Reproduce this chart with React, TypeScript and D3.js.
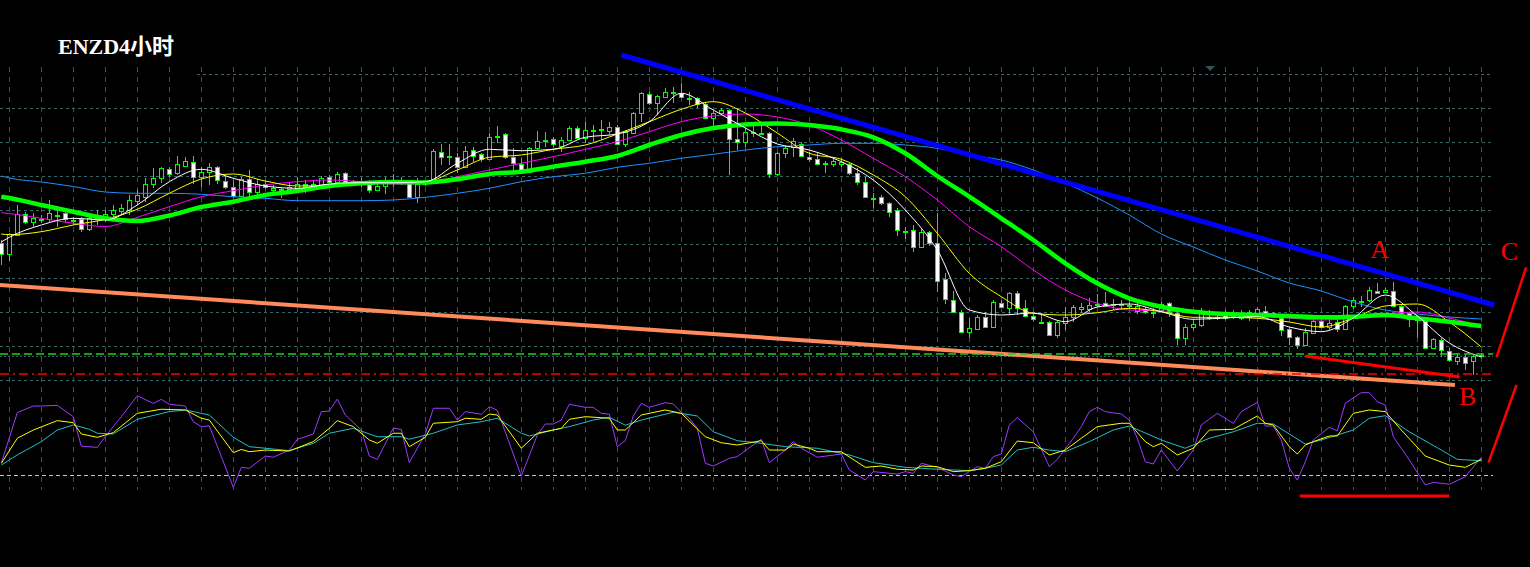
import React from 'react';
import * as d3 from 'd3';

const W = 1530;
const H = 567;

// price unit: pips above 1.6000 (EURNZD, 4H)
const candles: [number, number, number, number][] = [
  [197,200,175,186],[186,207,179,206],[205,235,204,226],[226,228,216,218],[218,227,213,222],
  [221,225,217,220],[221,240,218,227],[224,234,213,225],[227,229,217,221],[219,223,215,220],
  [221,223,208,211],[211,225,209,222],[221,230,215,222],[222,230,218,226],[226,235,222,230],
  [229,236,225,232],[230,245,225,240],[239,250,235,245],[243,262,238,256],[256,272,252,262],
  [262,273,257,272],[271,273,263,266],[267,284,265,276],[274,283,273,279],[278,284,256,263],
  [263,273,253,268],[268,277,255,273],[273,274,256,260],[259,265,251,253],[253,260,242,244],
  [244,263,243,261],[261,270,240,248],[248,261,245,256],[256,259,251,253],[250,255,247,252],
  [250,253,242,251],[251,257,247,253],[252,263,247,256],[256,260,247,254],[253,260,250,256],
  [255,264,251,262],[263,265,257,258],[258,268,256,266],[267,268,257,258],[258,260,255,257],
  [258,262,253,257],[258,260,247,250],[250,256,249,254],[254,263,246,260],[258,266,253,257],
  [257,263,255,259],[257,259,242,243],[243,262,237,256],[256,259,254,257],[257,291,256,289],
  [288,296,275,283],[284,296,275,283],[283,287,267,273],[273,294,272,289],[290,293,278,284],
  [286,287,278,281],[281,307,280,303],[304,314,297,303],[306,307,281,283],[283,292,268,277],
  [276,282,268,270],[268,293,267,292],[292,309,290,299],[300,308,293,299],[301,303,293,296],
  [294,303,288,300],[300,314,299,312],[312,314,300,302],[302,318,297,310],[310,315,298,309],
  [311,320,300,310],[309,318,305,313],[313,315,295,296],[296,310,293,308],[307,328,306,327],
  [327,348,318,347],[346,348,335,337],[337,345,325,344],[343,352,342,348],[348,353,337,347],
  [347,357,342,343],[342,348,335,341],[342,343,332,336],[336,338,321,322],[322,329,313,327],
  [327,332,325,330],[330,331,265,301],[301,332,290,298],[298,312,293,308],[308,318,303,307],
  [307,315,305,306],[307,308,262,266],[266,288,264,287],[287,295,282,292],[293,302,283,299],
  [296,298,283,284],[283,288,278,281],[281,288,275,276],[277,279,267,276],[276,283,273,279],
  [276,282,273,278],[276,277,265,267],[267,272,255,258],[258,263,242,243],[242,247,232,241],
  [243,245,235,237],[237,238,223,228],[230,232,204,210],[209,213,201,208],[210,215,188,193],
  [193,211,192,208],[208,209,194,197],[197,227,148,159],[161,167,136,141],[140,149,127,128],
  [128,130,107,108],[108,122,102,112],[111,125,110,123],[123,128,112,113],[113,140,112,138],
  [137,140,132,133],[132,148,125,147],[147,149,125,132],[132,140,123,124],[124,126,119,121],
  [118,127,116,117],[118,119,104,105],[105,120,102,118],[117,133,110,123],[123,135,118,133],
  [131,137,127,133],[131,142,127,135],[136,146,133,135],[137,148,133,134],[136,141,130,135],
  [136,140,130,135],[135,139,131,134],[129,137,126,134],[131,133,126,128],[128,132,122,127],
  [130,138,128,136],[137,138,123,128],[127,130,95,102],[102,116,95,113],[113,120,110,116],
  [115,132,113,127],[123,130,120,122],[122,125,120,123],[127,130,120,122],[125,130,121,124],
  [122,130,120,127],[123,130,119,128],[127,133,126,131],[129,134,123,124],[124,128,123,127],
  [122,124,104,110],[111,113,95,103],[103,104,91,95],[95,112,94,108],[107,124,106,119],
  [119,122,112,113],[113,123,110,117],[118,123,108,111],[111,135,110,134],[134,143,131,140],
  [139,144,133,138],[140,153,138,150],[149,157,146,147],[148,152,147,150],[149,158,133,134],
  [134,136,126,127],[127,128,113,121],[121,125,102,120],[119,123,91,92],[92,102,91,101],
  [100,102,83,90],[89,92,78,80],[79,87,75,83],[83,85,70,77],[79,85,65,84],[85,87,82,84],
];

// moving averages, read at these bars
const maBars = [0,1,5,9,13,17,21,25,29,33,37,41,45,49,53,57,61,65,69,73,77,81,85,89,93,97,101,105,109,113,117,121,125,129,133,137,141,145,149,153,157,161,165,169,173,177,181,185];
const maBlue = [264,262,258,253.5,248,246.7,246.7,245.7,243.3,241.7,239.3,239.3,239.3,240,242.7,246.7,251.7,258.3,263.3,266.7,272.7,276.7,281.7,285.7,290,293.3,295,296.7,296.7,295,291.7,285,280,270,257,242,225,206,193,180,169,157,149,138,130,126,123,121];
const maGreen = [243.3,242,235,228.3,221.7,219,224.5,233,238.3,245,249,254,256.7,258,257.5,260.7,266,268.3,273.3,278.3,284,295,305,312,315.5,316.5,315,310.7,302.7,286.7,264,243.3,221.7,200,176.7,156.7,141.7,133.3,128.3,126,125,124,122.7,123.3,125,121.7,118.3,114];
const maMagenta = [227.3,226.5,221.7,216.7,213.5,222.7,233.3,243.3,249.3,255,258.3,260,258.3,256,256.7,263.3,270,276.7,283.3,290.7,298.3,308.3,318.3,324,326,323,315,300,281.7,263.3,240,213.3,193.3,170,150,136.7,130,129,128,127,125,122,120,122,126,128,122,114];
const maYellow = [206,205.3,208.3,215,220.7,230.7,246.7,261,266,259,254,255,258.3,257.3,258.3,270,282.7,285,290.7,295,306,318.3,330.7,338.3,327,307,286.7,280.7,265,243.3,206.7,166.7,143.3,126.7,125,127.3,131.7,128.3,122.7,122.7,121.7,118,113,122,134,136,118,93];
const maWhite = [198,202.7,215,221.7,220,235,258.3,270.7,261.7,254,251.7,256,257.3,257.3,258.3,276.7,290.7,289.3,290.7,302.7,306,318.3,346.7,330,312,296,290,278.3,260,230,190,130,125,127,118.3,133,136,128.3,120.7,122,123.3,113,108.3,122,145,124,97,83];

// stochastic oscillator [bar, value]
const oscPurple: [number, number][] = [[0,30],[2,72],[4,77.5],[5,77.5],[7,78],[9,68.6],[10,44],[12,43],[13,52],[15,68.6],[17,86],[19,79.7],[20,83],[21,79],[23,77.5],[24,64.4],[25,60.3],[26,61],[29,9.7],[30,26.4],[31,25.6],[33,35.8],[34,34.8],[36,40.8],[37,49.7],[39,54.2],[40,72.8],[41,73.3],[42,83.3],[43,70],[45,57.5],[46,35.8],[47,33],[49,59],[50,58],[51,30.3],[53,54.2],[54,75.6],[56,75.6],[57,65.8],[58,72.8],[60,70.6],[61,76.9],[62,74],[65,19.2],[67,53.3],[68,62.5],[69,62.5],[70,65.8],[71,78.9],[73,76.4],[74,76.4],[75,71.4],[76,70.6],[77,43.6],[78,48.6],[79,69.2],[80,79.7],[81,76.4],[83,80.3],[84,79.2],[85,72.3],[86,67.3],[87,58.9],[88,29.8],[89,27.5],[91,33.9],[92,35.3],[93,40.3],[95,49.8],[96,30.3],[98,40.8],[99,47.8],[100,42.3],[102,34.8],[105,37.5],[106,24.2],[108,15.8],[109,22.8],[112,20.8],[113,22.8],[114,21.4],[115,29.8],[117,26.4],[119,20],[120,18.6],[121,22.8],[122,26.9],[123,25.6],[124,35.3],[125,37.5],[126,61.7],[127,67.8],[129,56],[131,26.9],[132,33],[134,50.6],[135,60.3],[136,72.8],[137,76.4],[138,72.8],[140,70.8],[141,65.8],[142,50.6],[143,31],[144,29.2],[145,40.8],[147,23.3],[149,40.8],[150,61.7],[152,71.4],[154,63],[155,72.8],[157,80.6],[158,60.8],[159,60.8],[160,49.2],[161,25.6],[162,15.8],[163,31],[164,49.2],[166,59.8],[167,56.7],[168,79.8],[170,88.6],[171,88.6],[172,81.1],[173,78.3],[174,51.9],[176,32.5],[178,11.7],[179,13.9],[181,12.3],[183,18.6],[185,34.8]];
const oscYellow: [number, number][] = [[0,29.7],[2,50.6],[4,57.5],[7,65.3],[9,63.6],[10,54.2],[12,51.4],[14,55.3],[17,71.4],[20,74.8],[23,74.2],[25,67.3],[26,65.8],[29,38.6],[30,41.3],[31,39.4],[33,40.8],[36,40],[39,47.8],[41,58.9],[42,65.3],[44,60.3],[46,49.2],[47,46.4],[49,54.8],[50,54.8],[51,43.6],[53,51.4],[54,63.1],[57,64.4],[58,67.3],[60,66.4],[61,70.8],[62,70],[65,42.3],[67,54.8],[70,58.9],[71,66.4],[73,68.6],[76,67.3],[77,57.5],[78,57.5],[80,70],[83,74.2],[85,71.4],[88,51.9],[90,46.9],[92,45],[95,48.6],[96,40.8],[98,40.8],[99,45.8],[101,42.3],[102,39.4],[105,39.4],[108,26.4],[110,27.5],[112,24.8],[114,24.2],[115,27.5],[117,26.9],[119,22.8],[121,23.6],[123,25.6],[125,31.1],[127,48.3],[129,46.9],[131,36.7],[133,40.8],[135,50.6],[137,60.3],[140,63.1],[141,63.1],[143,47.8],[144,43.6],[145,46.4],[147,36.7],[149,42.3],[151,57.5],[154,58.1],[157,69.2],[158,63.1],[159,61.7],[161,43.6],[162,37.5],[163,45],[164,47.8],[166,52.5],[167,52.5],[169,71.4],[171,74.2],[173,72.8],[175,57.5],[178,35.8],[181,28.3],[183,26.4],[185,33]];
const oscCyan: [number, number][] = [[0,28.3],[2,36.7],[5,47.8],[7,57.5],[9,61.7],[11,58.1],[12,54.8],[14,54.2],[17,66.4],[21,72.8],[23,74.2],[26,70],[29,51.4],[31,43.6],[33,42.3],[36,40.3],[39,46.4],[41,54.8],[44,58.9],[47,51.9],[50,51.9],[51,49.8],[54,54.8],[57,61.7],[60,64.4],[62,67.3],[65,54.8],[66,52.5],[69,57.5],[71,60.3],[74,65.8],[76,68.1],[78,61.5],[80,65.8],[84,72.3],[87,69.2],[89,56],[92,48.6],[95,46.4],[98,43.6],[102,42.3],[106,36.7],[109,30.3],[113,26.4],[117,24.8],[121,23.6],[123,25.6],[125,28.3],[127,40.8],[129,43.1],[131,40.8],[133,39.4],[136,47.8],[139,57.5],[141,60.8],[145,49.2],[148,42.3],[151,50.6],[154,56],[157,63.1],[159,62.5],[163,45.8],[165,49.2],[169,57.5],[171,67.3],[173,69.4],[176,56],[180,40.8],[182,33],[185,31.9]];

// grid & levels
const priceGrid = [366, 332, 298, 264, 230, 196, 162, 128, 94, 60];
const gridBars = [1,5,9,13,17,21,25,29,33,37,41,45,49,53,57,61,65,69,73,77,81,85,89,93,97,101,105,109,113,117,121,125,129,133,137,141,145,149,153,157,161,165,169,173,177,181,185];
const levelGreen = 86;
const levelGray = 83.6;
const levelRed = 66;
const oscLevel = 20;

// drawn objects [bar, price]
const trendBlue: [number, number][] = [[77.5, 385], [186.6, 135]];
const trendOrange: [number, number][] = [[-0.2, 155], [181.7, 55]];
const trendRed: [number, number][] = [[163, 84], [182.3, 63]];
const markC: [number, number][] = [[186.9, 82.7], [190.6, 172.7]];
const oscRedFlat: [number, number][] = [[162.3, 2.5], [181, 2.5]];
const oscRedRise: [number, number][] = [[185.9, 30.3], [189.4, 95]];
const labels = [
  { t: 'A', bar: 172.3, p: 182 },
  { t: 'B', bar: 183.3, p: 35 },
  { t: 'C', bar: 188.5, p: 180 },
];
const title = 'ENZD4小时';

export default function App() {
  const x = d3.scaleLinear().domain([0, 185]).range([1.3, 1481.3]);
  const y = d3.scaleLinear().domain([0, 440]).range([440, 0]);
  const yo = d3.scaleLinear().domain([0, 100]).range([499, 379]);
  const plotRight = 1493;

  const maPath = (vals: number[]) =>
    d3.line<number>().x((_, i) => x(maBars[i])).y((v) => y(v)).curve(d3.curveMonotoneX)(vals) || '';
  const oscPath = (pts: [number, number][]) =>
    d3.line<[number, number]>().x((d) => x(d[0])).y((d) => yo(d[1]))(pts) || '';
  const segP = (pts: [number, number][]) =>
    d3.line<[number, number]>().x((d) => x(d[0])).y((d) => y(d[1]))(pts) || '';

  const tri = x(151.1);

  return (
    <svg width={W} height={H} style={{ position: 'absolute', left: 0, top: 0, display: 'block', background: '#000' }}>
      <rect x={0} y={0} width={W} height={H} fill="#000" />
      {/* grid */}
      {priceGrid.map((p, i) => (
        <line key={'h' + i} x1={i === 0 ? 197 : 0} x2={plotRight} y1={Math.round(y(p)) + 0.5} y2={Math.round(y(p)) + 0.5}
          stroke="#3b6464" strokeWidth={1} strokeDasharray="3,3" />
      ))}
      {gridBars.map((b) => (
        <line key={'v' + b} x1={Math.round(x(b)) + 0.5} x2={Math.round(x(b)) + 0.5} y1={67} y2={490}
          stroke="#4a4a4a" strokeWidth={1} strokeDasharray="5,5" />
      ))}
      <line x1={0} x2={plotRight} y1={Math.round(yo(oscLevel)) + 0.5} y2={Math.round(yo(oscLevel)) + 0.5}
        stroke="#c8c8c8" strokeWidth={1} strokeDasharray="4,3" />
      <line x1={0} x2={plotRight} y1={y(levelGray)} y2={y(levelGray)} stroke="#3f6a6a" strokeWidth={1} strokeDasharray="2,2" />

      {/* orange channel line */}
      <path d={segP(trendOrange)} stroke="#ff8a5c" strokeWidth={4} fill="none" />

      {/* candles */}
      {candles.map(([o, h, l, c], i) => {
        const cx = Math.round(x(i));
        const top = Math.round(y(Math.max(o, c)));
        const bot = Math.round(y(Math.min(o, c)));
        const bull = c > o;
        return (
          <g key={'c' + i}>
            <line x1={cx + 0.5} x2={cx + 0.5} y1={Math.round(y(h))} y2={Math.round(y(l))} stroke="#00ff00" strokeWidth={1} />
            <rect x={cx - 1.5} y={top + 0.5} width={4} height={Math.max(1, bot - top)}
              fill={bull ? '#000' : '#fff'} stroke="#00ff00" strokeWidth={1} />
          </g>
        );
      })}

      {/* moving averages */}
      <path d={maPath(maBlue)} stroke="#1e90ff" strokeWidth={1} fill="none" />
      <path d={maPath(maMagenta)} stroke="#ff00ff" strokeWidth={1} fill="none" />
      <path d={maPath(maYellow)} stroke="#ffff00" strokeWidth={1} fill="none" />
      <path d={maPath(maGreen)} stroke="#00ff00" strokeWidth={4.5} fill="none" />
      <path d={maPath(maWhite)} stroke="#ffffff" strokeWidth={1} fill="none" />

      {/* levels */}
      <line x1={0} x2={plotRight} y1={y(levelGreen)} y2={y(levelGreen)} stroke="#1fcf1f" strokeWidth={1.5} strokeDasharray="8,4" />
      <line x1={0} x2={plotRight} y1={y(levelRed)} y2={y(levelRed)} stroke="#ff0000" strokeWidth={1.5} strokeDasharray="9,4,2,4" />

      {/* trend lines */}
      <path d={segP(trendBlue)} stroke="#0000ff" strokeWidth={5} fill="none" />
      <path d={segP(trendRed)} stroke="#ff0000" strokeWidth={3} fill="none" />
      <path d={segP(markC)} stroke="#ff0000" strokeWidth={2.5} fill="none" />

      {/* oscillator */}
      <path d={oscPath(oscPurple)} stroke="#9a3cff" strokeWidth={1} fill="none" />
      <path d={oscPath(oscCyan)} stroke="#22c0c8" strokeWidth={1} fill="none" />
      <path d={oscPath(oscYellow)} stroke="#ffff00" strokeWidth={1} fill="none" />
      <path d={oscPath(oscRedFlat)} stroke="#ff0000" strokeWidth={3} fill="none" />
      <path d={oscPath(oscRedRise)} stroke="#ff0000" strokeWidth={2.5} fill="none" />

      {/* labels */}
      {labels.map((lb) => (
        <text key={lb.t} x={x(lb.bar)} y={y(lb.p)} fill="#ff0000" fontSize={26} textAnchor="middle"
          fontFamily="'Liberation Serif', serif">{lb.t}</text>
      ))}
      <text x={58} y={54} fill="#ffffff" fontSize={22} fontWeight="bold"
        fontFamily="'Liberation Serif', 'Noto Sans CJK SC', serif">{title}</text>

      <polygon points={`${tri - 5},66 ${tri + 5},66 ${tri},71`} fill="#2f5454" />
    </svg>
  );
}
